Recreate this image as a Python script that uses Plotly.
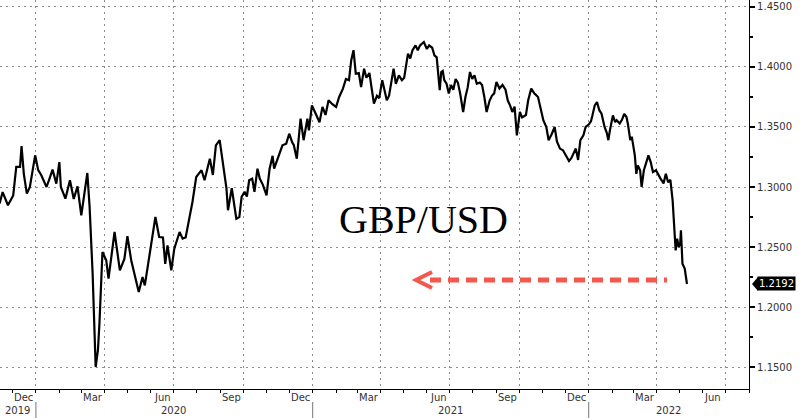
import plotly.graph_objects as go

# ---------------- data ----------------
dates_a = ["2019-11-14","2019-11-18","2019-11-25","2019-12-02","2019-12-06","2019-12-11","2019-12-13","2019-12-16","2019-12-20","2019-12-24",
           "2019-12-31","2020-01-04","2020-01-08","2020-01-15","2020-01-19","2020-01-23","2020-01-28","2020-02-01","2020-02-03","2020-02-09",
           "2020-02-15","2020-02-20","2020-02-25","2020-03-01","2020-03-09","2020-03-12","2020-03-16","2020-03-20","2020-03-23","2020-03-25",
           "2020-03-29","2020-04-03","2020-04-06","2020-04-14","2020-04-21","2020-04-27","2020-05-01","2020-05-06","2020-05-16","2020-05-21",
           "2020-05-24","2020-05-28","2020-06-02","2020-06-07","2020-06-12","2020-06-17","2020-06-20","2020-06-23","2020-06-28","2020-07-02",
           "2020-07-09","2020-07-13","2020-07-17","2020-07-22","2020-07-26","2020-07-31","2020-08-07","2020-08-11","2020-08-18","2020-08-22",
           "2020-08-26","2020-08-31","2020-09-04","2020-09-09","2020-09-11","2020-09-16","2020-09-22","2020-09-26"]
values_a = [1.2862,1.2958,1.2848,1.2930,1.3167,1.3167,1.3340,1.3110,1.2945,1.3000,
            1.3264,1.3140,1.3100,1.3000,1.3070,1.3145,1.3028,1.3208,1.3000,1.2903,
            1.3056,1.2900,1.3006,1.2764,1.3117,1.2833,1.2278,1.1500,1.1640,1.1864,
            1.2458,1.2390,1.2236,1.2625,1.2306,1.2400,1.2590,1.2390,1.2125,1.2250,
            1.2180,1.2333,1.2528,1.2750,1.2583,1.2580,1.2360,1.2514,1.2306,1.2486,
            1.2625,1.2570,1.2580,1.2736,1.2875,1.3083,1.3140,1.3056,1.3236,1.3100,
            1.3347,1.3390,1.3222,1.2986,1.2806,1.2990,1.2736,1.2750]

dates_b = ["2020-09-29","2020-10-03","2020-10-06","2020-10-09","2020-10-13","2020-10-16","2020-10-20","2020-10-23","2020-10-27","2020-11-01",
           "2020-11-05","2020-11-09","2020-11-11","2020-11-16","2020-11-22","2020-11-27","2020-12-01","2020-12-05","2020-12-07","2020-12-11",
           "2020-12-16","2020-12-20","2020-12-25","2020-12-27","2020-12-31","2021-01-05","2021-01-10","2021-01-14","2021-01-18","2021-01-22",
           "2021-01-27","2021-02-01","2021-02-05"]
values_b = [1.2917,1.2960,1.2920,1.3056,1.3070,1.2960,1.3153,1.3070,1.3020,1.2930,
            1.3150,1.3260,1.3153,1.3250,1.3347,1.3361,1.3444,1.3370,1.3350,1.3236,
            1.3570,1.3390,1.3570,1.3472,1.3680,1.3610,1.3540,1.3667,1.3600,1.3722,
            1.3690,1.3667,1.3750]

dates_c = ["2021-02-10","2021-02-14","2021-02-18","2021-02-21","2021-02-24","2021-02-27","2021-03-03","2021-03-06","2021-03-10","2021-03-13",
           "2021-03-17","2021-03-20","2021-03-23","2021-03-27","2021-03-30","2021-04-03","2021-04-06","2021-04-09","2021-04-12","2021-04-18",
           "2021-04-21","2021-04-25","2021-04-29","2021-05-02","2021-05-07","2021-05-10","2021-05-13","2021-05-17","2021-05-20","2021-05-23",
           "2021-05-28","2021-06-01","2021-06-04","2021-06-08","2021-06-11","2021-06-14","2021-06-18","2021-06-20"]
values_c = [1.3820,1.3900,1.3890,1.4056,1.4140,1.3944,1.3950,1.3833,1.3986,1.3910,
            1.3950,1.3806,1.3694,1.3760,1.3740,1.3890,1.3790,1.3722,1.3760,1.3986,
            1.3860,1.3930,1.3890,1.3910,1.4111,1.4070,1.4140,1.4180,1.4140,1.4180,
            1.4208,1.4150,1.4180,1.4160,1.4097,1.4080,1.3806,1.3958]

dates_d = ["2021-06-22","2021-06-24","2021-06-27","2021-06-30","2021-07-03","2021-07-06","2021-07-09","2021-07-12","2021-07-15","2021-07-19",
           "2021-07-22","2021-07-25","2021-07-28","2021-07-31","2021-08-03","2021-08-06","2021-08-10","2021-08-13","2021-08-16","2021-08-19",
           "2021-08-23","2021-08-26","2021-08-29","2021-09-01","2021-09-05","2021-09-09","2021-09-13","2021-09-16","2021-09-19","2021-09-22",
           "2021-09-25","2021-09-28","2021-10-02","2021-10-05","2021-10-10","2021-10-13","2021-10-17","2021-10-21","2021-10-26","2021-10-30",
           "2021-11-02","2021-11-06","2021-11-09","2021-11-13","2021-11-17","2021-11-20","2021-11-24"]
values_d = [1.3967,1.3890,1.3860,1.3780,1.3850,1.3810,1.3900,1.3870,1.3780,1.3625,
            1.3750,1.3830,1.3958,1.3900,1.3931,1.3860,1.3870,1.3850,1.3750,1.3625,
            1.3720,1.3760,1.3780,1.3875,1.3820,1.3850,1.3810,1.3720,1.3680,1.3625,
            1.3670,1.3430,1.3625,1.3580,1.3600,1.3722,1.3820,1.3780,1.3750,1.3650,
            1.3556,1.3500,1.3390,1.3440,1.3500,1.3380,1.3320]

dates_e = ["2021-11-28","2021-12-03","2021-12-06","2021-12-09","2021-12-12","2021-12-15","2021-12-18","2021-12-21","2021-12-25","2021-12-28",
           "2022-01-01","2022-01-04","2022-01-06","2022-01-09","2022-01-12","2022-01-15","2022-01-18","2022-01-22","2022-01-25","2022-01-27",
           "2022-01-29","2022-02-02","2022-02-05","2022-02-07","2022-02-11","2022-02-14","2022-02-17","2022-02-20","2022-02-22","2022-02-25",
           "2022-02-27","2022-03-01","2022-03-03","2022-03-05","2022-03-07","2022-03-10","2022-03-12","2022-03-15","2022-03-17","2022-03-21",
           "2022-03-24","2022-03-27","2022-03-31","2022-04-03","2022-04-06","2022-04-10","2022-04-13","2022-04-16","2022-04-19","2022-04-22",
           "2022-04-24","2022-04-26","2022-04-28","2022-04-30","2022-05-02","2022-05-03","2022-05-05","2022-05-08","2022-05-11"]
values_e = [1.3306,1.3250,1.3217,1.3240,1.3280,1.3320,1.3225,1.3390,1.3430,1.3500,
            1.3520,1.3547,1.3597,1.3680,1.3708,1.3640,1.3610,1.3500,1.3450,1.3390,
            1.3470,1.3597,1.3540,1.3556,1.3530,1.3560,1.3610,1.3583,1.3520,1.3390,
            1.3420,1.3347,1.3264,1.3110,1.3180,1.3140,1.3000,1.3140,1.3180,1.3264,
            1.3208,1.3125,1.3140,1.3100,1.3070,1.3030,1.3110,1.3040,1.3060,1.2889,
            1.2722,1.2472,1.2569,1.2500,1.2530,1.2639,1.2361,1.2320,1.2192]

dates = dates_a + dates_b + dates_c + dates_d + dates_e
values = values_a + values_b + values_c + values_d + values_e

y_ticks = [1.15, 1.20, 1.25, 1.30, 1.35, 1.40, 1.45]
month_label_dates = ["2019-12-16","2020-03-16","2020-06-16","2020-09-16","2020-12-16","2021-03-16",
                     "2021-06-16","2021-09-16","2021-12-16","2022-03-16","2022-06-14"]
month_labels = ["Dec","Mar","Jun","Sep","Dec","Mar","Jun","Sep","Dec","Mar","Jun"]
year_label_dates = ["2019-12-08","2020-07-01","2021-07-02","2022-04-16"]
year_labels = ["2019","2020","2021","2022"]
year_starts = ["2020-01-01","2021-01-01","2022-01-01"]
title_text = "GBP/USD"

# ---------------- style ----------------
X_RANGE = ["2019-11-14 12:00", "2022-08-01"]
Y_RANGE = [1.1317, 1.4558]
GRID = "#8c8c8c"
TXT = "#333333"
RED = "#F4574B"
W, H = 800, 418
ML, MR, MT, MB = 0, 51, 0, 29
PW, PH = W - ML - MR, H - MT - MB

def px(xp):  # plot-area pixel -> paper x
    return xp / PW
def py(yp):  # plot-area pixel -> paper y
    return 1 - yp / PH

fig = go.Figure()
fig.add_trace(go.Scatter(x=dates, y=values, mode="lines",
                         line=dict(color="black", width=2.2), hoverinfo="skip",
                         showlegend=False))

fig.update_layout(
    width=W, height=H, margin=dict(l=ML, r=MR, t=MT, b=MB),
    paper_bgcolor="white", plot_bgcolor="white",
    font=dict(family="DejaVu Sans", size=10, color=TXT),
    showlegend=False,
    xaxis=dict(range=X_RANGE, type="date", tickmode="linear", tick0="2020-01-01", dtick="M3",
               showticklabels=False, showgrid=True, gridcolor=GRID, griddash="2px,4px", gridwidth=1,
               ticks="outside", ticklen=3, tickcolor="black", tickwidth=1,
               minor=dict(tickmode="linear", tick0="2019-12-01", dtick="M1", ticks="outside",
                          ticklen=3, tickcolor="black", showgrid=False),
               showline=True, linecolor="black", linewidth=1.2, zeroline=False, fixedrange=True),
    yaxis=dict(range=Y_RANGE, side="right", tickmode="array", tickvals=y_ticks,
               tickformat=".4f", showgrid=True, gridcolor=GRID, griddash="2px,4px", gridwidth=1,
               ticks="outside", ticklen=5, tickwidth=2, tickcolor="black",
               minor=dict(tickmode="linear", tick0=1.125, dtick=0.025, ticks="outside",
                          ticklen=3, tickcolor="black", showgrid=False),
               showline=True, linecolor="black", linewidth=1.2, zeroline=False,
               tickfont=dict(family="DejaVu Sans", size=10, color=TXT)),
)

# month labels (centred in their month) and year labels
for d, t in zip(month_label_dates, month_labels):
    fig.add_annotation(x=d, xref="x", y=py(398), yref="paper", text=t, showarrow=False,
                       xanchor="center", yanchor="middle",
                       font=dict(family="DejaVu Sans", size=10, color=TXT))
for d, t in zip(year_label_dates, year_labels):
    fig.add_annotation(x=d, xref="x", y=py(411), yref="paper", text=t, showarrow=False,
                       xanchor="center", yanchor="middle",
                       font=dict(family="DejaVu Sans", size=10, color=TXT))
for d in year_starts:
    fig.add_shape(type="line", xref="x", yref="paper", x0=d, x1=d, y0=py(402), y1=py(418),
                  line=dict(color="#777777", width=1))

# title text in chart
fig.add_annotation(x=px(423), y=py(219), xref="paper", yref="paper", text=title_text,
                   showarrow=False, xanchor="center", yanchor="middle",
                   font=dict(family="Liberation Serif", size=40, color="black"))

# red dashed arrow
fig.add_shape(type="line", xref="paper", yref="paper", x0=px(430), x1=px(667), y0=py(280), y1=py(280),
              line=dict(color=RED, width=5, dash="11px,7px"))
fig.add_shape(type="path", xref="paper", yref="paper",
              path=f"M {px(432)},{py(272)} L {px(416)},{py(280)} L {px(432)},{py(288)}",
              line=dict(color=RED, width=4))

# last value tag
last = values[-1]
fig.add_shape(type="path", xref="paper", yref="y", xsizemode="pixel", ysizemode="pixel",
              xanchor=1, yanchor=last, path="M 3,0 L 9,7 L 9,-7 Z",
              fillcolor="black", line=dict(color="black", width=0))
fig.add_annotation(x=1, xref="paper", y=last, yref="y", xanchor="left", yanchor="middle",
                   xshift=8, text=f"{last:.4f}", showarrow=False, bgcolor="black",
                   borderpad=1, font=dict(family="DejaVu Sans", size=10, color="white"))

fig.write_html("out.html", config={"displayModeBar": False},
               post_script="document.body.style.margin='0';document.body.style.padding='0';")
